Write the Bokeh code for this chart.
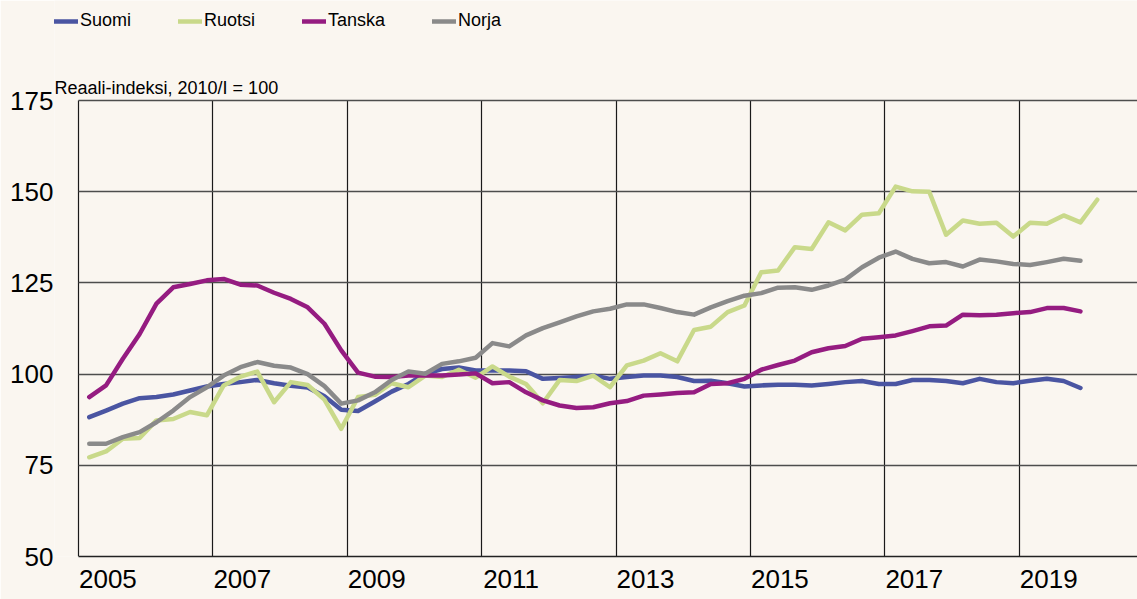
from bokeh.plotting import figure
from bokeh.models import (Range1d, FixedTicker, NumeralTickFormatter, Legend, LegendItem,
                          ColumnDataSource, Label)
from bokeh.embed import file_html
from bokeh.resources import INLINE

# ---- data (quarterly, first quarter = 2005/I) ----
start_year = 2005
suomi = [88.2, 90.0, 91.9, 93.4, 93.7, 94.4, 95.5, 96.6, 97.3, 97.8, 98.4, 97.5, 96.8, 96.3, 93.9,
         90.2, 89.9, 92.5, 95.2, 97.3, 100.1, 101.4, 101.8, 101.0, 101.0, 101.0, 100.8, 98.7, 98.9, 99.2,
         99.6, 98.7, 99.2, 99.6, 99.6, 99.2, 98.1, 98.2, 97.5, 96.6, 96.9, 97.1, 97.1, 96.9, 97.3,
         97.8, 98.1, 97.3, 97.3, 98.4, 98.4, 98.1, 97.5, 98.7, 97.8, 97.5, 98.2, 98.7, 98.1, 96.2]
ruotsi = [77.2, 78.8, 82.3, 82.5, 87.3, 87.7, 89.6, 88.7, 96.9, 99.3, 100.7, 92.3, 97.8, 97.0, 93.0,
          85.0, 93.7, 94.3, 97.5, 96.4, 99.6, 99.2, 101.2, 99.0, 102.1, 99.3, 97.3, 92.0, 98.4, 98.1,
          99.6, 96.4, 102.4, 103.7, 105.7, 103.5, 112.1, 113.0, 117.0, 118.8, 127.9, 128.4, 134.8, 134.3, 141.6,
          139.4, 143.7, 144.1, 151.4, 150.1, 150.0, 138.2, 142.1, 141.2, 141.5, 137.7, 141.5, 141.2, 143.5, 141.6,
          147.8]
tanska = [93.7, 96.9, 104.2, 111.0, 119.3, 123.8, 124.7, 125.7, 126.1, 124.5, 124.3, 122.3, 120.6, 118.3, 113.8,
          106.5, 100.4, 99.3, 99.2, 99.6, 99.6, 99.6, 99.9, 100.2, 97.5, 97.8, 95.0, 92.8, 91.4, 90.7,
          90.9, 92.0, 92.6, 94.1, 94.4, 94.8, 95.0, 97.3, 97.5, 98.7, 101.2, 102.5, 103.7, 106.0, 107.1,
          107.7, 109.7, 110.1, 110.6, 111.8, 113.1, 113.3, 116.3, 116.1, 116.3, 116.7, 117.0, 118.1, 118.1, 117.2]
norja = [80.9, 80.9, 82.7, 84.1, 86.8, 90.0, 93.7, 96.4, 99.6, 101.9, 103.3, 102.3, 101.8, 100.0, 96.7,
         91.9, 92.8, 95.0, 98.4, 100.7, 100.1, 102.8, 103.5, 104.5, 108.5, 107.6, 110.6, 112.6, 114.2, 115.8,
         117.2, 117.9, 119.1, 119.1, 118.1, 117.0, 116.3, 118.3, 120.0, 121.5, 122.2, 123.7, 123.8, 123.1, 124.3,
         125.9, 129.3, 131.9, 133.6, 131.6, 130.4, 130.7, 129.5, 131.4, 130.9, 130.2, 129.9, 130.7, 131.6, 131.1]

series_names = ["Suomi", "Ruotsi", "Tanska", "Norja"]
series_values = [suomi, ruotsi, tanska, norja]
series_colors = ["#4A55A2", "#C9D98A", "#951C81", "#8A8A8A"]

y_ticks = [50, 75, 100, 125, 150, 175]
x_label_years = [2005, 2007, 2009, 2011, 2013, 2015, 2017, 2019]
x_grid_years = [2005, 2007, 2009, 2011, 2013, 2015, 2017, 2019]
subtitle = "Reaali-indeksi, 2010/I = 100"

BG = "#FAF6F0"
FONT = "Liberation Sans"

# value window of the chart body and the extra room kept (inside the frame) for legend/subtitle
Y_MIN, Y_MAX = 50, 175
X_MIN = 2005
PX_PER_YEAR = 67.2
PX_PER_UNIT = 456 / (Y_MAX - Y_MIN)
FRAME_LEFT, FRAME_TOP, FRAME_BOTTOM, W, H = 54, 0, 556, 1137, 599
x_lo = X_MIN - (78 - FRAME_LEFT) / PX_PER_YEAR
x_hi = X_MIN + (W - 78) / PX_PER_YEAR
y_hi = Y_MAX + (100 - FRAME_TOP) / PX_PER_UNIT


def quarter_x(n):
    # point placed within its quarter (approx. 2 months into the quarter)
    return [start_year + 0.16 + 0.25 * i for i in range(n)]


p = figure(width=W, height=H,
           x_range=Range1d(x_lo, x_hi), y_range=Range1d(Y_MIN, y_hi),
           output_backend="svg", toolbar_location=None,
           min_border_left=FRAME_LEFT, min_border_right=0, min_border_top=FRAME_TOP,
           min_border_bottom=H - FRAME_BOTTOM,
           background_fill_color=BG, border_fill_color=BG, outline_line_color=None)
p.title = None

# grids (limited to the chart body)
p.ygrid.ticker = FixedTicker(ticks=y_ticks)
p.ygrid.grid_line_color = "#4d4d4d"
p.ygrid.grid_line_width = 1.5
p.ygrid.cross_bounds = (X_MIN, x_hi)
p.xgrid.ticker = FixedTicker(ticks=x_grid_years)
p.xgrid.grid_line_color = "#1a1a1a"
p.xgrid.grid_line_width = 1.2
p.xgrid.cross_bounds = (Y_MIN, Y_MAX)

# y axis (labels only; the vertical line at 2005 comes from the grid)
p.yaxis.ticker = FixedTicker(ticks=y_ticks)
p.yaxis.bounds = (Y_MIN, Y_MAX)
p.yaxis.axis_line_color = None
p.yaxis.major_tick_out = 0
p.yaxis.major_tick_in = 0
p.yaxis.minor_tick_out = 0
p.yaxis.minor_tick_in = 0
p.yaxis.major_label_standoff = 1
p.yaxis.major_label_text_font = FONT
p.yaxis.major_label_text_font_size = "26px"
p.yaxis.major_label_text_color = "#000000"

# x axis: labels sit in the first half of each labelled year
p.xaxis.ticker = FixedTicker(ticks=[y + 0.4375 for y in x_label_years])
p.xaxis.formatter = NumeralTickFormatter(format="0")
p.xaxis.bounds = (X_MIN, x_hi)
p.xaxis.major_tick_out = 0
p.xaxis.major_tick_in = 0
p.xaxis.minor_tick_out = 0
p.xaxis.minor_tick_in = 0
p.xaxis.major_label_standoff = 13
p.xaxis.major_label_text_font = FONT
p.xaxis.major_label_text_font_size = "26px"
p.xaxis.major_label_text_color = "#000000"
p.xaxis.axis_line_color = "#222222"
p.xaxis.axis_line_width = 1.5

items = []
for name, vals, col in zip(series_names, series_values, series_colors):
    src = ColumnDataSource(dict(x=quarter_x(len(vals)), y=vals))
    r = p.line("x", "y", source=src, line_color=col, line_width=4.5,
               line_join="round", line_cap="round")
    items.append(LegendItem(label=name, renderers=[r]))

legend = Legend(items=items, orientation="horizontal", location=(0, 525),
                glyph_width=24, glyph_height=20, label_standoff=2, spacing=47,
                padding=0, margin=0, border_line_color=None, background_fill_alpha=0,
                label_text_font=FONT, label_text_font_size="18px", label_text_color="#000000")
p.add_layout(legend)

sub = Label(x=0, y=FRAME_BOTTOM - 87, x_units="screen", y_units="screen", text=subtitle,
            text_font=FONT, text_font_size="18px", text_color="#000000",
            text_baseline="alphabetic", text_align="left")
p.add_layout(sub)

open("out.html", "w").write(file_html(p, INLINE))
